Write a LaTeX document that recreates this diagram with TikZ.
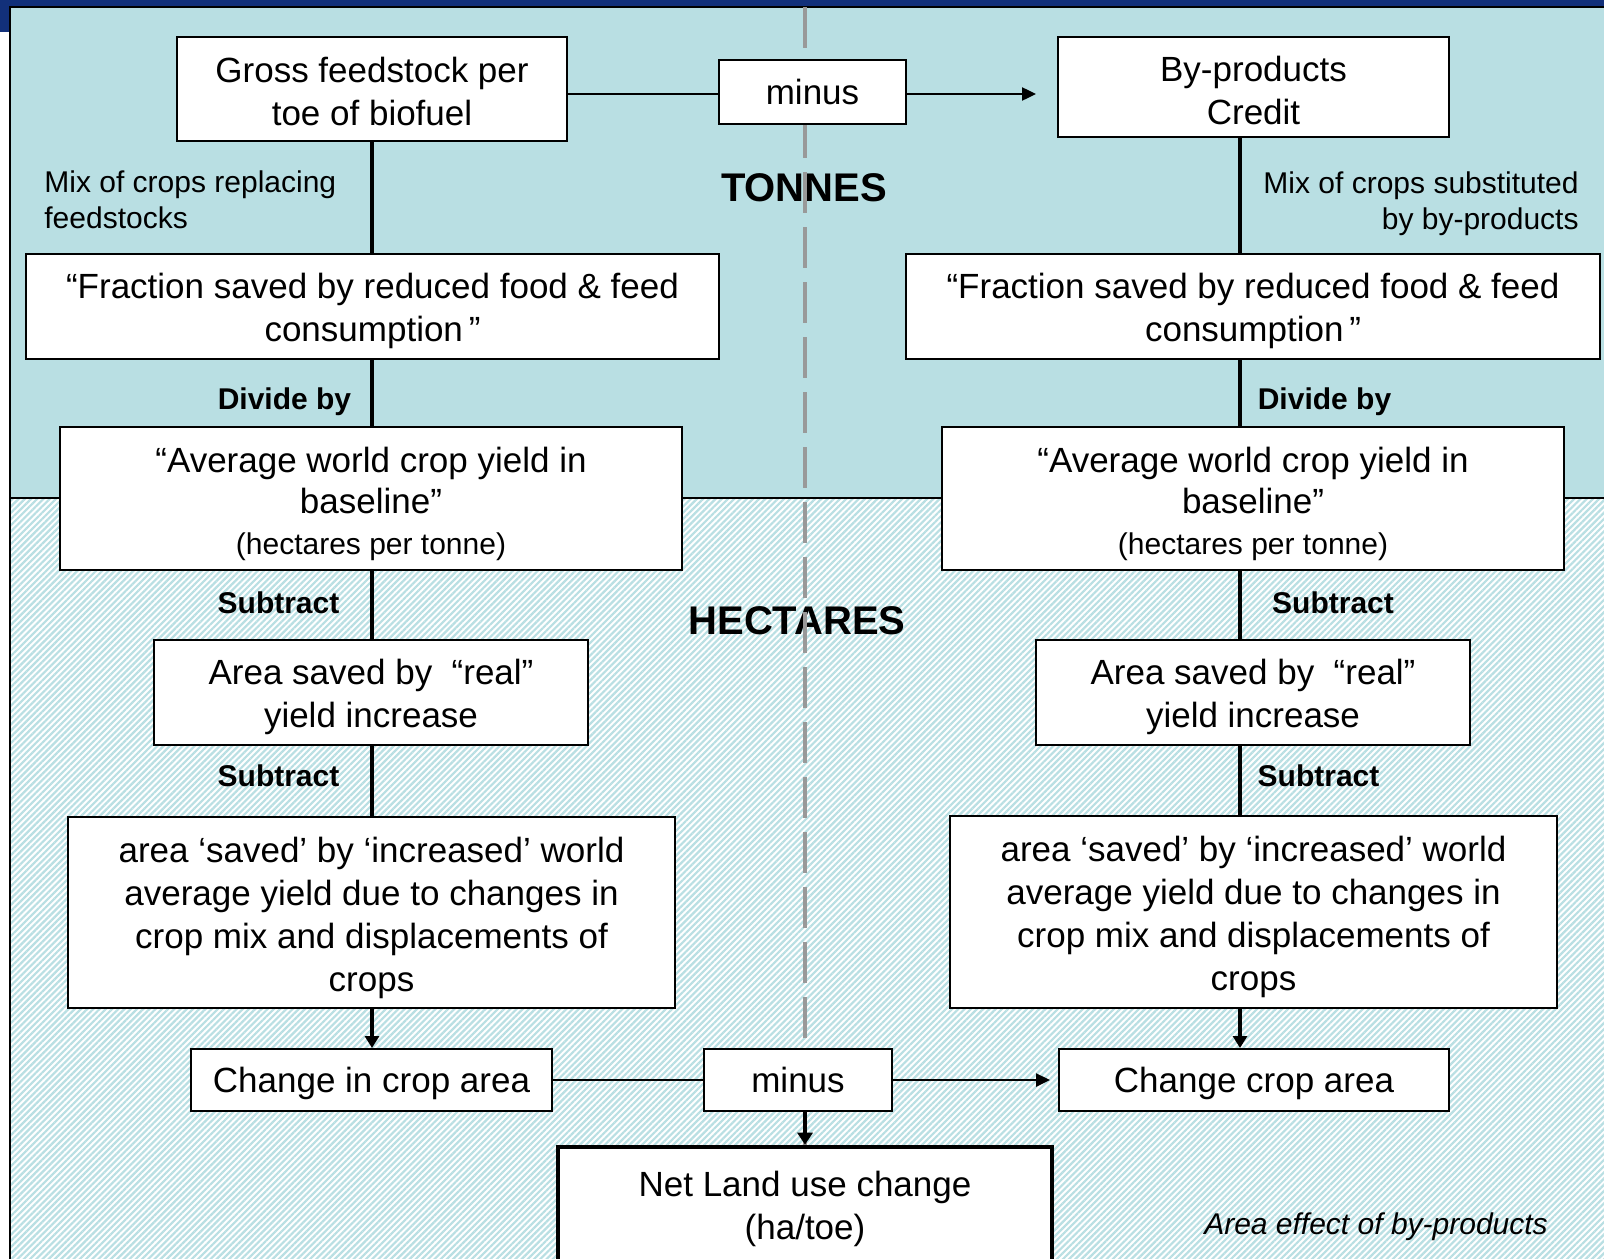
\documentclass[tikz,border=0pt]{standalone}
\usepackage{fontspec}
\setmainfont{Liberation Sans}
\usetikzlibrary{patterns.meta,arrows.meta}
\definecolor{lb}{HTML}{B9DFE3}
\definecolor{navy}{HTML}{12307A}
\definecolor{dgray}{HTML}{999999}
\begin{document}
\begin{tikzpicture}[x=0.5pt,y=-0.5pt,
 bx/.style={draw=black,line width=1pt,fill=white,align=center,inner sep=0pt,font=\fontsize{17.5}{21.5}\selectfont},
 rs/.style={execute at begin node={\rule{0pt}{#1}}},
 lbl/.style={font=\fontsize{15}{18}\selectfont\bfseries,inner sep=0pt},
 side/.style={font=\fontsize{15}{18}\selectfont,inner sep=0pt},
 big/.style={font=\fontsize{20}{24}\selectfont\bfseries,inner sep=0pt},
 con/.style={line width=2pt},
 hcon/.style={line width=1.2pt},
 harr/.style={line width=1.2pt,-{Triangle[length=7pt,width=6.5pt]}},
 varr/.style={line width=2pt,-{Triangle[length=6pt,width=7pt]}}]
\useasboundingbox (0,0) rectangle (1604,1258);
% background
\fill[white] (0,0) rectangle (1604,1258);
\fill[lb] (10,7) rectangle (1610,498);
\fill[pattern={Lines[angle=45,distance=2.2pt,line width=1.1pt]},pattern color=lb] (10,498) rectangle (1610,1265);
\draw[line width=1pt] (10,1265) -- (10,7) -- (1610,7);
\draw[line width=1pt] (10,498) -- (1610,498);
\fill[navy] (0,0) rectangle (1604,6);
\fill[navy] (0,0) rectangle (9,32);
% side labels
\node[side,anchor=west,align=left] (mixl) at (44,200) {Mix of crops replacing\\feedstocks};
\node[side,anchor=east,align=right] (mixr) at (1579,204) {Mix of crops substituted\\by by-products};
\node[big] (tonnes) at (804,188) {TONNES};
\node[big] (hect) at (797,621) {HECTARES};
\node[lbl] (divl) at (284.5,402) {Divide by};
\node[lbl] (divr) at (1324.5,402) {Divide by};
\node[lbl] (subl1) at (278.5,603) {Subtract};
\node[lbl] (subr1) at (1333,603) {Subtract};
\node[lbl] (subl2) at (278.5,776) {Subtract};
\node[lbl] (subr2) at (1318.5,776) {Subtract};
\node[side,font=\fontsize{15}{18}\selectfont\itshape] (aeff) at (1376,1227) {Area effect of by-products};
% dashed divider
\coordinate (dtop) at (805,7);
\coordinate (dbot) at (805,1147);
\draw[dgray,line width=2.3pt,dash pattern=on 20.5pt off 7pt] (dtop) -- (dbot);
% boxes
\node[bx,rs=36.5pt,minimum width=195pt,minimum height=52pt] (gross) at (372,89) {Gross feedstock per\\toe of biofuel};
\node[bx,minimum width=93.5pt,minimum height=32pt] (m1) at (812.5,92) {minus};
\node[bx,rs=37.5pt,minimum width=195.5pt,minimum height=50pt] (byp) at (1253.5,87) {By-products\\Credit};
\node[bx,rs=38.5pt,minimum width=346.5pt,minimum height=52.5pt] (fracl) at (372.5,306.5) {“Fraction saved by reduced food \& feed\\consumption\,”};
\node[bx,rs=38.5pt,minimum width=347pt,minimum height=52.5pt] (fracr) at (1253,306.5) {“Fraction saved by reduced food \& feed\\consumption\,”};
\node[bx,rs=59pt,minimum width=311pt,minimum height=71.5pt] (avgl) at (371,498.5) {“Average world crop yield in\\[-1pt]baseline”\\[-1pt]{\fontsize{15}{18}\selectfont(hectares per tonne)}};
\node[bx,rs=59pt,minimum width=311pt,minimum height=71.5pt] (avgr) at (1253,498.5) {“Average world crop yield in\\[-1pt]baseline”\\[-1pt]{\fontsize{15}{18}\selectfont(hectares per tonne)}};
\node[bx,rs=38.5pt,minimum width=217pt,minimum height=52.5pt] (areal) at (371,692.5) {Area saved by \ “real”\\yield increase};
\node[bx,rs=38.5pt,minimum width=217pt,minimum height=52.5pt] (arear) at (1253,692.5) {Area saved by \ “real”\\yield increase};
\node[bx,rs=82.5pt,minimum width=303.5pt,minimum height=95.5pt] (incl) at (371.5,912.5) {area ‘saved’ by ‘increased’ world\\average yield due to changes in\\crop mix and displacements of\\crops};
\node[bx,rs=82.5pt,minimum width=303.5pt,minimum height=96pt] (incr) at (1253.5,912) {area ‘saved’ by ‘increased’ world\\average yield due to changes in\\crop mix and displacements of\\crops};
\node[bx,rs=16.5pt,minimum width=180.5pt,minimum height=31pt] (chl) at (371.5,1080) {Change in crop area};
\node[bx,minimum width=94pt,minimum height=31pt] (m2) at (798,1080) {minus};
\node[bx,rs=16.5pt,minimum width=195pt,minimum height=31pt] (chr) at (1254,1080) {Change crop area};
\node[bx,rs=38.5pt,line width=2.3pt,minimum width=247pt,minimum height=57.5pt] (net) at (805,1204.5) {Net Land use change\\(ha/toe)};
% connectors
\coordinate (xl) at (372,0);
\coordinate (xr) at (1240,0);
\coordinate (xm) at (805,0);
\coordinate (a1) at (1036,94);
\coordinate (a2) at (1050,1080);
\draw[hcon] (gross.east |- a1) -- (m1.west |- a1);
\draw[harr] (m1.east |- a1) -- (a1);
\draw[con] (gross.south -| xl) -- (fracl.north -| xl);
\draw[con] (fracl.south -| xl) -- (avgl.north -| xl);
\draw[con] (avgl.south -| xl) -- (areal.north -| xl);
\draw[con] (areal.south -| xl) -- (incl.north -| xl);
\draw[varr] (incl.south -| xl) -- (chl.north -| xl);
\draw[con] (byp.south -| xr) -- (fracr.north -| xr);
\draw[con] (fracr.south -| xr) -- (avgr.north -| xr);
\draw[con] (avgr.south -| xr) -- (arear.north -| xr);
\draw[con] (arear.south -| xr) -- (incr.north -| xr);
\draw[varr] (incr.south -| xr) -- (chr.north -| xr);
\draw[hcon] (chl.east) -- (m2.west);
\draw[harr] (m2.east) -- (a2);
\draw[line width=2.4pt,-{Triangle[length=6pt,width=7.5pt]}] (m2.south -| xm) -- (net.north -| xm);
\end{tikzpicture}
\end{document}
